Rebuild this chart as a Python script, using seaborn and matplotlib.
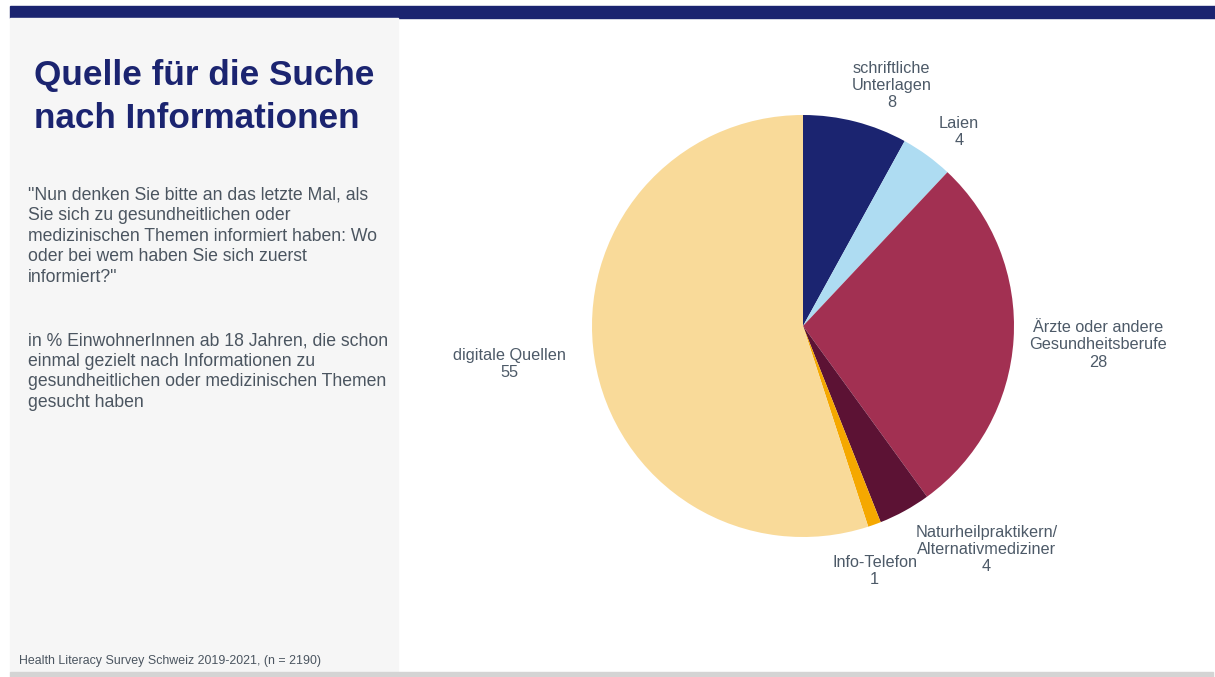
import matplotlib
matplotlib.use("Agg")
import matplotlib.pyplot as plt
from matplotlib.patches import Rectangle
import seaborn as sns

# Data: first source of information, in % of residents 18+
categories = [
    "schriftliche\nUnterlagen",
    "Laien",
    "Ärzte oder andere\nGesundheitsberufe",
    "Naturheilpraktikern/\nAlternativmediziner",
    "Info-Telefon",
    "digitale Quellen",
]
values = [8, 4, 28, 4, 1, 55]
colors = ["#1b2470", "#aedcf2", "#a23052", "#5c1234", "#f5a800", "#f9da99"]

title_lines = ["Quelle für die Suche", "nach Informationen"]
question_lines = [
    '"Nun denken Sie bitte an das letzte Mal, als',
    "Sie sich zu gesundheitlichen oder",
    "medizinischen Themen informiert haben: Wo",
    "oder bei wem haben Sie sich zuerst",
    'informiert?"',
]
base_lines = [
    "in % EinwohnerInnen ab 18 Jahren, die schon",
    "einmal gezielt nach Informationen zu",
    "gesundheitlichen oder medizinischen Themen",
    "gesucht haben",
]
source_note = "Health Literacy Survey Schweiz 2019-2021, (n = 2190)"

sns.set_theme(style="white")
plt.rcParams["font.family"] = ["Liberation Sans", "DejaVu Sans"]

W, H = 1215, 677
fig = plt.figure(figsize=(W / 100, H / 100), dpi=100)
fig.patch.set_facecolor("white")


def fx(px):
    return px / W


def fy(py):
    return 1 - py / H


# Frame decorations: top band, left panel, bottom rule
fig.patches.append(Rectangle((fx(10), fy(18)), fx(1215) - fx(10), fy(6) - fy(18),
                             transform=fig.transFigure, color="#1b2470", zorder=0))
fig.patches.append(Rectangle((fx(10), fy(672)), fx(398) - fx(10), fy(18) - fy(672),
                             transform=fig.transFigure, color="#f6f6f6", zorder=0))
fig.patches.append(Rectangle((fx(10), fy(677)), fx(1213) - fx(10), fy(672) - fy(677),
                             transform=fig.transFigure, color="#d4d4d4", zorder=0))

# Left panel text
title_y = [85, 128]
for line, y in zip(title_lines, title_y):
    fig.text(fx(34), fy(y), line, fontsize=25.3, fontweight="bold",
             color="#1b2470", ha="left", va="baseline")

text_color = "#4b5560"
for i, line in enumerate(question_lines):
    fig.text(fx(28), fy(200 + i * 20.4), line, fontsize=12.7,
             color=text_color, ha="left", va="baseline")
for i, line in enumerate(base_lines):
    fig.text(fx(28), fy(345.7 + i * 20.3), line, fontsize=12.7,
             color=text_color, ha="left", va="baseline")

fig.text(fx(19), fy(664), source_note, fontsize=8.9, color=text_color,
         ha="left", va="baseline")

# Pie chart: centre (803, 326) px, radius 211 px
cx, cy, r = 803, 326, 211
sx, sy = 1.6, 1.35
ax = fig.add_axes([fx(cx - sx * r), fy(cy + sy * r),
                   (2 * sx * r) / W, (2 * sy * r) / H])
ax.axis("off")

palette = sns.color_palette(colors)
wedges, _ = ax.pie(values, colors=palette, startangle=90, counterclock=False,
                   radius=1, wedgeprops=dict(linewidth=0), frame=False)
ax.set_xlim(-sx, sx)
ax.set_ylim(-sy, sy)

# Label anchors in pie-radius units
label_pos = [(0.42, 1.14), (0.74, 0.92), (1.40, -0.09),
             (0.87, -1.06), (0.34, -1.16), (-1.39, -0.18)]
label_color = "#4d5a68"
for name, val, (lx, ly) in zip(categories, values, label_pos):
    ax.text(lx, ly, f"{name}\n{val}", ha="center", va="center",
            fontsize=11.7, color=label_color, linespacing=1.18)

fig.savefig("out.png", dpi=100, facecolor=fig.get_facecolor())
